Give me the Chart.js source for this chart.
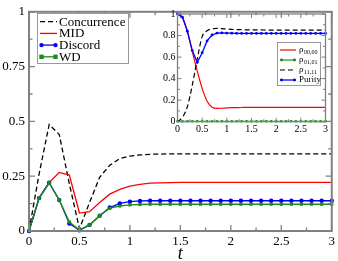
<!DOCTYPE html>
<html><head><meta charset="utf-8">
<script src="https://cdn.jsdelivr.net/npm/chart.js@4.4.0/dist/chart.umd.min.js"></script>
<style>
html,body{margin:0;padding:0;background:#fff;}
#wrap{position:relative;width:338px;height:261px;overflow:hidden;}
#main{position:absolute;left:0;top:0;}
#inset{position:absolute;left:150px;top:6px;}
</style></head><body>
<div id="wrap"><canvas id="main" width="338" height="261"></canvas><canvas id="inset" width="180" height="130"></canvas></div>
<script>
// ---------- data ----------
const tValues = [0,0.1,0.2,0.3,0.4,0.5,0.6,0.7,0.8,0.9,1,1.1,1.2,1.3,1.4,1.5,1.6,1.7,1.8,1.9,2,2.1,2.2,2.3,2.4,2.5,2.6,2.7,2.8,2.9,3];
const concurrence = [0,0.26,0.486,0.44,0.215,0.01,0.13,0.245,0.30,0.33,0.342,0.347,0.35,0.351,0.352,0.352,0.352,0.352,0.352,0.352,0.352,0.352,0.352,0.352,0.352,0.352,0.352,0.352,0.352,0.352,0.352];
const mid = [0,0.15,0.222,0.267,0.255,0.082,0.088,0.13,0.168,0.19,0.205,0.213,0.218,0.22,0.221,0.222,0.222,0.222,0.222,0.222,0.222,0.222,0.222,0.222,0.222,0.222,0.222,0.222,0.222,0.222,0.222];
const discord = [0,0.15,0.22,0.141,0.034,0.003,0.028,0.07,0.107,0.126,0.134,0.137,0.138,0.138,0.138,0.138,0.138,0.138,0.138,0.138,0.138,0.138,0.138,0.138,0.138,0.138,0.138,0.138,0.138,0.138,0.138];
const wd = [0,0.15,0.22,0.141,0.041,0.005,0.028,0.07,0.104,0.114,0.119,0.121,0.122,0.122,0.122,0.122,0.122,0.122,0.122,0.122,0.122,0.122,0.122,0.122,0.122,0.122,0.122,0.122,0.122,0.122,0.122];

const rho0000 = [1,0.97,0.84,0.65,0.47,0.31,0.19,0.135,0.124,0.125,0.128,0.13,0.131,0.132,0.133,0.133,0.133,0.133,0.133,0.133,0.133,0.133,0.133,0.133,0.133,0.133,0.133,0.133,0.133,0.133,0.133];
const rho0101 = [0.004,0.004,0.004,0.004,0.004,0.004,0.004,0.004,0.004,0.004,0.004,0.004,0.004,0.004,0.004,0.004,0.004,0.004,0.004,0.004,0.004,0.004,0.004,0.004,0.004,0.004,0.004,0.004,0.004,0.004,0.004];
const rho1111 = [0,0.04,0.14,0.34,0.58,0.79,0.845,0.862,0.866,0.864,0.86,0.857,0.855,0.854,0.853,0.852,0.852,0.852,0.851,0.851,0.851,0.851,0.851,0.851,0.851,0.851,0.851,0.851,0.851,0.851,0.851];
const purity = [1,0.97,0.84,0.66,0.55,0.64,0.75,0.805,0.823,0.825,0.823,0.822,0.821,0.82,0.82,0.82,0.82,0.82,0.82,0.82,0.82,0.82,0.82,0.82,0.82,0.82,0.82,0.82,0.82,0.82,0.82];

const mainLabels = ['Concurrence','MID','Discord','WD'];
const insetLabels = [['ρ','00,00'],['ρ','01,01'],['ρ','11,11'],['Purity','']];
const xTickStep = 0.5, yTickStepMain = 0.25, yTickStepInset = 0.2;

// ---------- helpers ----------
const pts = (ys) => tValues.map((t,i)=>({x:t,y:ys[i]}));
const fmt = (v) => String(+Number(v).toFixed(3));
const SERIF = "'Liberation Serif', 'DejaVu Serif', serif";
const RED='#ff0000', BLUE='#0000ff', GREEN='#1a8c1a', BLACK='#000000', FRAME='#808080';

function framePlugin(id, o){
  return { id, afterDatasetsDraw(chart){
    const {ctx, chartArea:a, scales:{x,y}} = chart;
    ctx.save();
    ctx.strokeStyle = FRAME; ctx.lineWidth = o.lw;
    ctx.strokeRect(a.left, a.top, a.right-a.left, a.bottom-a.top);
    ctx.lineWidth = o.tlw;
    const nx = Math.round((x.max-x.min)/o.xMinor);
    for(let i=0;i<=nx;i++){
      const v = x.min + i*o.xMinor, p = x.getPixelForValue(v);
      const len = (i % o.xRatio === 0) ? o.major : o.minor;
      ctx.beginPath(); ctx.moveTo(p,a.bottom); ctx.lineTo(p,a.bottom-len);
      ctx.moveTo(p,a.top); ctx.lineTo(p,a.top+len); ctx.stroke();
    }
    const ny = Math.round((y.max-y.min)/o.yMinor);
    for(let i=0;i<=ny;i++){
      const v = y.min + i*o.yMinor, p = y.getPixelForValue(v);
      const len = (i % o.yRatio === 0) ? o.major : o.minor;
      ctx.beginPath(); ctx.moveTo(a.left,p); ctx.lineTo(a.left+len,p);
      ctx.moveTo(a.right,p); ctx.lineTo(a.right-len,p); ctx.stroke();
    }
    ctx.restore();
  }};
}

function drawSample(ctx, ds, x0, x1, yy, mr){
  ctx.save();
  ctx.strokeStyle = ds.borderColor; ctx.lineWidth = ds.borderWidth;
  ctx.setLineDash(ds.borderDash || []);
  ctx.beginPath(); ctx.moveTo(x0,yy); ctx.lineTo(x1,yy); ctx.stroke();
  ctx.setLineDash([]);
  if(ds.pointRadius>0){
    ctx.fillStyle = ds.pointBackgroundColor;
    [x0+1.5,x1-1.5].forEach(px=>{
      if(ds.pointStyle==='rect'){ ctx.fillRect(px-mr,yy-mr,2*mr,2*mr); }
      else { ctx.beginPath(); ctx.arc(px,yy,mr,0,Math.PI*2); ctx.fill(); }
    });
  }
  ctx.restore();
}

const mainLegend = { id:'mainLegend', afterDraw(chart){
  const ctx = chart.ctx;
  ctx.save();
  ctx.fillStyle='#fff'; ctx.fillRect(37,13,91,50);
  ctx.strokeStyle='#999'; ctx.lineWidth=1; ctx.strokeRect(37.5,13.5,91,50);
  ctx.font = "13px "+SERIF; ctx.fillStyle='#000'; ctx.textBaseline='middle'; ctx.textAlign='left';
  chart.data.datasets.forEach((ds,i)=>{
    const yy = 21.7 + i*11.7;
    drawSample(ctx, ds, 40, 57, yy, 2.2);
    ctx.fillStyle='#000';
    ctx.fillText(ds.label, 59, yy+0.5);
  });
  ctx.restore();
}};

const insetLegend = { id:'insetLegend', afterDraw(chart){
  const ctx = chart.ctx;
  const ox = 150, oy = 6;
  ctx.save();
  ctx.fillStyle='#fff'; ctx.fillRect(277-ox,42-oy,43,43);
  ctx.strokeStyle='#999'; ctx.lineWidth=1; ctx.strokeRect(277.5-ox,42.5-oy,43,43);
  ctx.textBaseline='middle'; ctx.textAlign='left';
  chart.data.datasets.forEach((ds,i)=>{
    const yy = 50 - oy + i*10;
    drawSample(ctx, ds, 280-ox, 296-ox, yy, 1.4);
    const lab = insetLabels[i];
    ctx.fillStyle='#000';
    ctx.font = "9px "+SERIF;
    ctx.fillText(lab[0], 299-ox, yy);
    if(lab[1]){
      const w = ctx.measureText(lab[0]).width;
      ctx.font = "6px "+SERIF;
      ctx.fillText(lab[1], 299-ox+w+0.5, yy+2.5);
    }
  });
  ctx.restore();
}};

Chart.defaults.font.family = SERIF;
Chart.defaults.color = '#000';

// ---------- main chart ----------
new Chart(document.getElementById('main'), {
  type:'line',
  data:{ datasets:[
    {label:mainLabels[0], data:pts(concurrence), borderColor:BLACK, borderWidth:1.3, borderDash:[5,3], pointRadius:0, order:3, clip:false},
    {label:mainLabels[1], data:pts(mid), borderColor:RED, borderWidth:1.3, pointRadius:0, order:2, clip:false},
    {label:mainLabels[2], data:pts(discord), borderColor:BLUE, borderWidth:1.3, pointRadius:2.2, pointStyle:'circle', pointBackgroundColor:BLUE, pointBorderWidth:0, order:1, clip:false},
    {label:mainLabels[3], data:pts(wd), borderColor:GREEN, borderWidth:1.3, pointRadius:2.2, pointStyle:'rect', pointBackgroundColor:GREEN, pointBorderWidth:0, order:0, clip:false}
  ]},
  options:{
    responsive:false, animation:false, events:[],
    layout:{padding:{top:5,right:5,left:0,bottom:0}},
    plugins:{legend:{display:false}, tooltip:{enabled:false}},
    scales:{
      x:{type:'linear', min:0, max:3,
        ticks:{stepSize:xTickStep, font:{size:13}, padding:3, maxRotation:0, callback:fmt},
        grid:{display:false, drawTicks:false}, border:{display:false},
        title:{display:true, text:'t', font:{size:18, style:'italic'}, padding:{top:0,bottom:-4}},
        afterFit(s){ s.height = 30; }
      },
      y:{type:'linear', min:0, max:1,
        ticks:{stepSize:yTickStepMain, font:{size:13}, padding:4, callback:fmt},
        grid:{display:false, drawTicks:false}, border:{display:false},
        afterFit(s){ s.width = 29; }
      }
    }
  },
  plugins:[framePlugin('mainFrame',{lw:2, tlw:1.3, major:6, minor:3.5, xMinor:0.25, xRatio:2, yMinor:0.125, yRatio:2}), mainLegend]
});

// ---------- inset chart ----------
new Chart(document.getElementById('inset'), {
  type:'line',
  data:{ datasets:[
    {label:'rho0000', data:pts(rho0000), borderColor:RED, borderWidth:1.2, pointRadius:0, cubicInterpolationMode:'monotone', order:3, clip:false},
    {label:'rho0101', data:pts(rho0101), borderColor:GREEN, borderWidth:1.2, pointRadius:1.3, pointBackgroundColor:GREEN, pointBorderWidth:0, order:2, clip:false},
    {label:'rho1111', data:pts(rho1111), borderColor:BLACK, borderWidth:1.2, borderDash:[5,3], pointRadius:0, cubicInterpolationMode:'monotone', order:1, clip:false},
    {label:'Purity', data:pts(purity), borderColor:BLUE, borderWidth:1.3, pointRadius:1.4, pointBackgroundColor:BLUE, pointBorderWidth:0, order:0, clip:false}
  ]},
  options:{
    responsive:false, animation:false, events:[],
    layout:{padding:{top:5,right:3,left:0,bottom:0}},
    plugins:{legend:{display:false}, tooltip:{enabled:false}},
    scales:{
      x:{type:'linear', min:0, max:3,
        ticks:{stepSize:xTickStep, font:{size:10}, padding:2, maxRotation:0, callback:fmt},
        grid:{display:false, drawTicks:false}, border:{display:false},
        afterFit(s){ s.height = 14.3; }
      },
      y:{type:'linear', min:0, max:1,
        ticks:{stepSize:yTickStepInset, font:{size:10}, padding:2, callback:fmt},
        grid:{display:false, drawTicks:false}, border:{display:false},
        afterFit(s){ s.width = 27.5; }
      }
    }
  },
  plugins:[framePlugin('insetFrame',{lw:1.3, tlw:1, major:4, minor:2.5, xMinor:0.25, xRatio:2, yMinor:0.1, yRatio:2}), insetLegend]
});
</script>
</body></html>
